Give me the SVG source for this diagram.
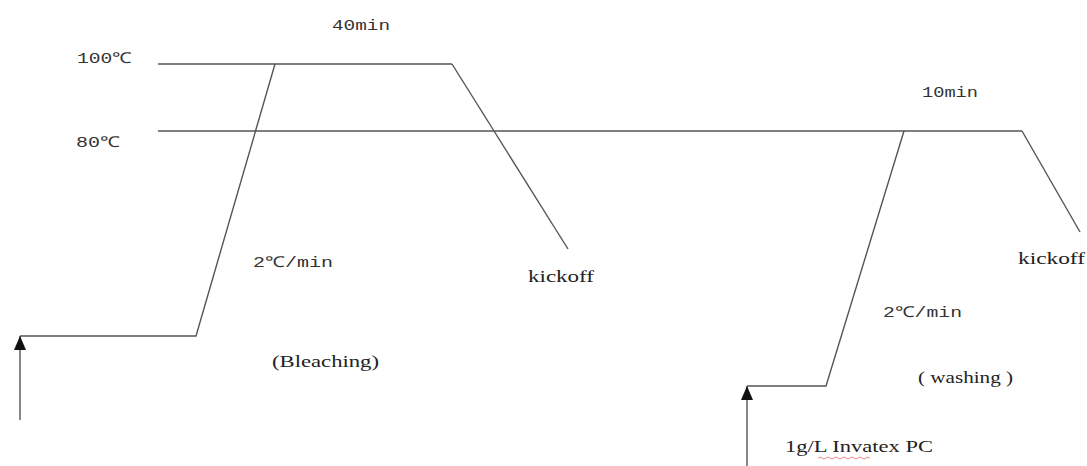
<svg xmlns="http://www.w3.org/2000/svg" width="1087" height="466" viewBox="0 0 1087 466">
<style>
.ln{fill:none;stroke:#555;stroke-width:1.4}
.cn{font-family:"Liberation Mono","DejaVu Sans Mono",monospace;font-size:15px;fill:#333}
.tr{font-family:"Liberation Serif","Times New Roman",serif;font-size:16px;fill:#222}
</style>
<defs>
<marker id="ah" markerWidth="14" markerHeight="12" refX="14" refY="6" orient="auto" markerUnits="userSpaceOnUse" viewBox="0 0 14 12">
<path d="M0,0 L14,6 L0,12 Z" fill="#111"/>
</marker>
</defs>
<rect width="1087" height="466" fill="#fff"/>
<g id="connectors">
<line class="ln" x1="158" y1="64" x2="452" y2="64"/>
<line class="ln" x1="158" y1="131" x2="1022" y2="131"/>
<polyline class="ln" points="20,336 196,336 275,64"/>
<line class="ln" x1="452" y1="64" x2="568" y2="249"/>
<polyline class="ln" points="747,386 826,386 904,131"/>
<line class="ln" x1="1022" y1="131" x2="1080" y2="232"/>
<line x1="20" y1="420" x2="20" y2="336" stroke="#555" stroke-width="1.4" marker-end="url(#ah)"/>
<line x1="747" y1="466" x2="747" y2="386" stroke="#555" stroke-width="1.4" marker-end="url(#ah)"/>
</g>
<g id="labels">
<text class="cn" x="77" y="63" textLength="55" lengthAdjust="spacingAndGlyphs">100℃</text>
<text class="cn" x="76" y="147" textLength="44" lengthAdjust="spacingAndGlyphs">80℃</text>
<text class="cn" x="332" y="30" textLength="58" lengthAdjust="spacingAndGlyphs">40min</text>
<text class="cn" x="922" y="97" textLength="56" lengthAdjust="spacingAndGlyphs">10min</text>
<text class="cn" x="253" y="267" textLength="80" lengthAdjust="spacingAndGlyphs">2℃/min</text>
<text class="cn" x="883" y="317" textLength="79" lengthAdjust="spacingAndGlyphs">2℃/min</text>
<text class="tr" x="528" y="282" textLength="66" lengthAdjust="spacingAndGlyphs">kickoff</text>
<text class="tr" x="1018" y="264" textLength="67" lengthAdjust="spacingAndGlyphs">kickoff</text>
<text class="tr" x="272" y="367" textLength="107" lengthAdjust="spacingAndGlyphs">(Bleaching)</text>
<text class="tr" x="918" y="383" textLength="95" lengthAdjust="spacingAndGlyphs">( washing )</text>
<text class="tr" x="785" y="452" textLength="148" lengthAdjust="spacingAndGlyphs">1g/L Invatex PC</text>
<path d="M818,458 q2,-2 4,0 t4,0 t4,0 t4,0 t4,0 t4,0 t4,0 t4,0 t4,0 t4,0 t4,0 t4,0 t4,0" fill="none" stroke="#d66" stroke-width="0.8"/>
</g>
</svg>
